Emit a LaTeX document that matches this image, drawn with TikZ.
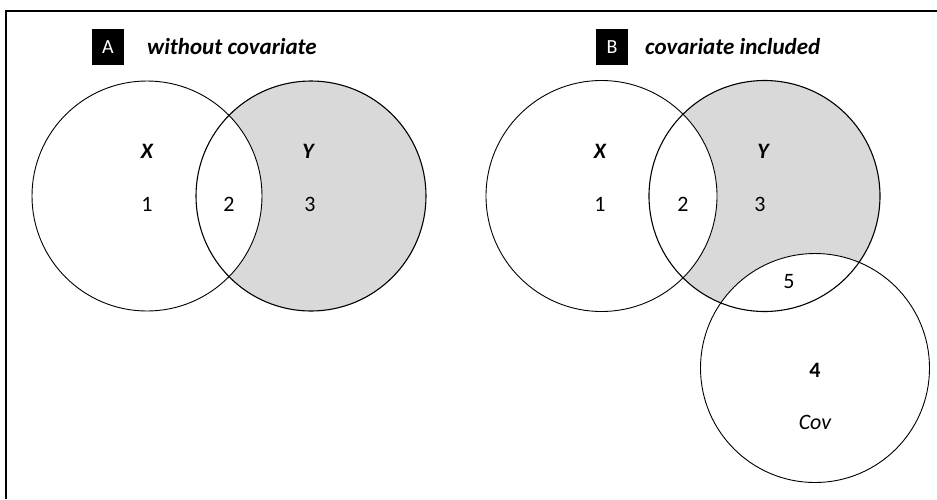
\documentclass[tikz,border=0pt]{standalone}
\usepackage{fontspec}
\setmainfont{Carlito}
\definecolor{shadegray}{HTML}{D9D9D9}
\begin{document}
\begin{tikzpicture}[x=1pt,y=-1pt,
  lbl/.style={inner sep=0pt,font=\fontsize{22}{24}\selectfont},
  hdr/.style={inner sep=0pt,font=\fontsize{23}{25}\selectfont\bfseries\itshape,anchor=west},
  tag/.style={fill=black,text=white,minimum width=32pt,minimum height=36pt,inner sep=0pt,font=\fontsize{20}{22}\selectfont},
  ring/.style={draw=black,line width=0.9pt}]
\useasboundingbox (0,0) rectangle (937,499);
\fill[white] (0,0) rectangle (937,499);
\draw[line width=2.2pt] (6,499) -- (6,11) -- (937,11);
% Panel A
\node[tag] (tA) at (108,47) {A};
\node[hdr] (hA) at (147,47) {without covariate};
\fill[shadegray] (311,196) circle (115);
\fill[white] (147,196) circle (115);
\draw[ring] (147,196) circle (115);
\draw[ring,line width=1.1pt] (311,196) circle (115);
\node[lbl,font=\fontsize{22}{24}\selectfont\bfseries\itshape] (xA) at (147,151) {X};
\node[lbl,font=\fontsize{22}{24}\selectfont\bfseries\itshape] (yA) at (308,151) {Y};
\node[lbl] (a1) at (147,204) {1};
\node[lbl] (a2) at (229,204) {2};
\node[lbl] (a3) at (310,204) {3};
% Panel B
\node[tag] (tB) at (612,47) {B};
\node[hdr] (hB) at (645,47) {covariate included};
\fill[shadegray] (764.5,196) circle (115.5);
\fill[white] (601.5,196) circle (115.5);
\fill[white] (815,368) circle (114.5);
\draw[ring] (601.5,196) circle (115.5);
\draw[ring,line width=1.1pt] (764.5,196) circle (115.5);
\draw[ring] (815,368) circle (114.5);
\node[lbl,font=\fontsize{22}{24}\selectfont\bfseries\itshape] (xB) at (600,151) {X};
\node[lbl,font=\fontsize{22}{24}\selectfont\bfseries\itshape] (yB) at (763,151) {Y};
\node[lbl] (b1) at (600,204) {1};
\node[lbl] (b2) at (683,204) {2};
\node[lbl] (b3) at (760,204) {3};
\node[lbl] (b5) at (789,282) {5};
\node[lbl,font=\fontsize{22}{24}\selectfont\bfseries] (b4) at (815,370) {4};
\node[lbl,font=\fontsize{22}{24}\selectfont\itshape] (cov) at (815,422) {Cov};
\end{tikzpicture}
\end{document}
